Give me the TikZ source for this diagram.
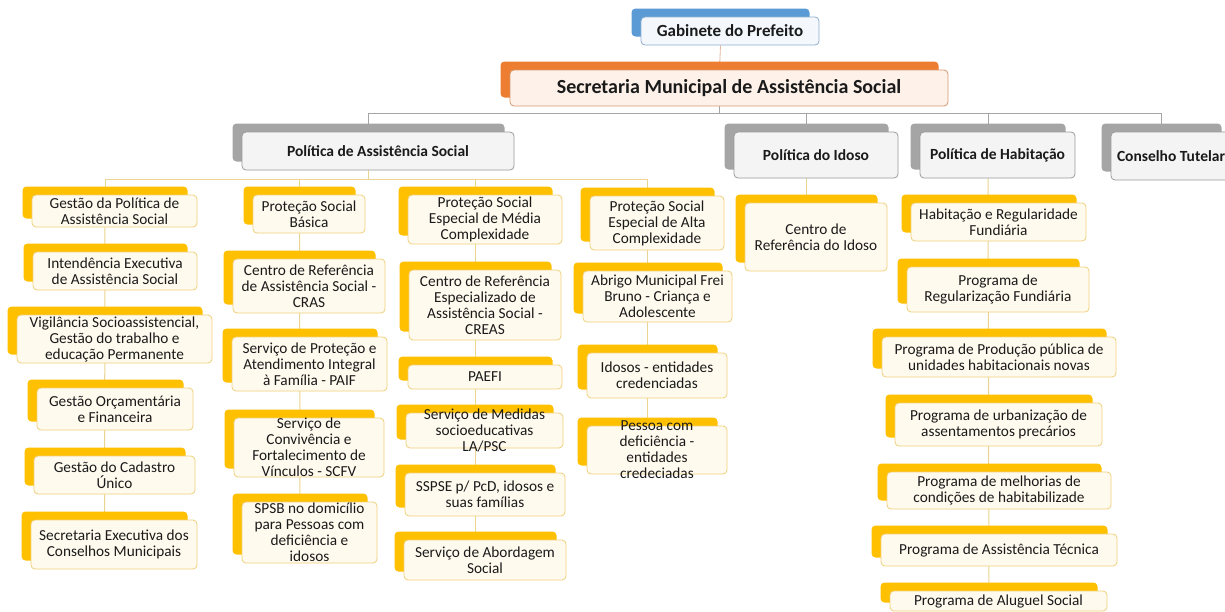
\documentclass[tikz,border=0pt]{standalone}
\usepackage{fontspec}
\setmainfont{Carlito}
\definecolor{gold}{HTML}{FFC000}
\definecolor{yfill}{HTML}{FFFAEE}
\definecolor{yedge}{HTML}{EFD07A}
\definecolor{yline}{HTML}{EAD590}
\definecolor{grtab}{HTML}{A5A5A5}
\definecolor{gfill}{HTML}{F4F4F4}
\definecolor{gedge}{HTML}{9C9C9C}
\definecolor{ortab}{HTML}{ED7D31}
\definecolor{ofill}{HTML}{FDF1EA}
\definecolor{oedge}{HTML}{D59A72}
\definecolor{bltab}{HTML}{5B9BD5}
\definecolor{bfill}{HTML}{F4F8FC}
\definecolor{bedge}{HTML}{8EAFCE}
\definecolor{txt}{HTML}{1A1A1A}
\pgfdeclarelayer{bg}
\pgfsetlayers{bg,main}
\tikzset{
  box/.style={draw, line width=0.8pt, rounded corners=4pt, align=center,
              inner sep=0pt, text=txt, font=\fontsize{15.3}{16}\selectfont},
  tabbed/.style={preaction={fill=#1, draw=none,
              transform canvas={xshift=-9.5pt,yshift=8.5pt}}},
  ybox/.style={box, tabbed=gold, draw=yedge, fill=yfill},
  gbox/.style={box, tabbed=grtab, draw=gedge, fill=gfill,
              font=\bfseries\fontsize{15.5}{17}\selectfont},
  obox/.style={box, tabbed=ortab, draw=oedge, fill=ofill,
              font=\bfseries\fontsize{20}{22}\selectfont},
  bbox/.style={box, tabbed=bltab, draw=bedge, fill=bfill,
              font=\bfseries\fontsize{17}{18}\selectfont},
  yconn/.style={draw=yline, line width=1pt},
  gconn/.style={draw=grtab, line width=0.8pt},
  oconn/.style={draw=oedge!70, line width=0.8pt}
}
\begin{document}
\begin{tikzpicture}[x=1pt,y=-1pt]
\useasboundingbox (0,0) rectangle (1225,611);

\draw (730,31) node[bbox, minimum width=178, minimum height=28] (gab) {Gabinete do Prefeito};
\draw (729,88) node[obox, minimum width=438, minimum height=36] (sec) {Secretaria Municipal de Assistência Social};

\draw (378,151) node[gbox, minimum width=272, minimum height=38] (pas) {Política de Assistência Social};
\draw (816,155) node[gbox, minimum width=164, minimum height=46] (pid) {Política do Idoso};
\draw (997.5,155) node[gbox, minimum width=155, minimum height=46] (phab) {Política de Habitação};
\draw (1171,156) node[gbox, minimum width=120, minimum height=48] (ct) {Conselho Tutelar};

\draw (114.5,211) node[ybox, minimum width=165, minimum height=32] (a1) {Gestão da Política de\\Assistência Social};
\draw (115,271) node[ybox, minimum width=164, minimum height=38] (a2) {Intendência Executiva\\de Assistência Social};
\draw (114.5,339) node[ybox, minimum width=195, minimum height=48] (a3) {Vigilância Socioassistencial,\\Gestão do trabalho e\\educação Permanente};
\draw (115,409) node[ybox, minimum width=156, minimum height=42] (a4) {Gestão Orçamentária\\e Financeira};
\draw (114.5,475) node[ybox, minimum width=161, minimum height=38] (a5) {Gestão do Cadastro\\Único};
\draw (114,544.5) node[ybox, minimum width=166, minimum height=49] (a6) {Secretaria Executiva dos\\Conselhos Municipais};

\draw (309,214) node[ybox, minimum width=112, minimum height=38] (b1) {Proteção Social\\Básica};
\draw (309,286) node[ybox, minimum width=152, minimum height=54] (b2) {Centro de Referência\\de Assistência Social -\\CRAS};
\draw (309.5,364) node[ybox, minimum width=155, minimum height=54] (b3) {Serviço de Proteção e\\Atendimento Integral\\à Família - PAIF};
\draw (309,447.5) node[ybox, minimum width=150, minimum height=59, inner ysep=-2.5pt] (b4) {Serviço de\\Convivência e\\Fortalecimento de\\Vínculos - SCFV};
\draw (309.5,532.5) node[ybox, minimum width=135, minimum height=61, inner ysep=-1.5pt] (b5) {SPSB no domicílio\\para Pessoas com\\deficiência e\\idosos};

\draw (485,219.5) node[ybox, minimum width=154, minimum height=49] (c1) {Proteção Social\\Especial de Média\\Complexidade};
\draw (485,305) node[ybox, minimum width=152, minimum height=70] (c2) {Centro de Referência\\Especializado de\\Assistência Social -\\CREAS};
\draw (485,377) node[ybox, minimum width=154, minimum height=24] (c3) {PAEFI};
\draw (484.5,430.5) node[ybox, minimum width=157, minimum height=35, inner ysep=-6pt] (c4) {Serviço de Medidas\\socioeducativas\\LA/PSC};
\draw (485,494.5) node[ybox, minimum width=160, minimum height=43] (c5) {SSPSE p/ PcD, idosos e\\suas famílias};
\draw (485,560) node[ybox, minimum width=162, minimum height=40] (c6) {Serviço de Abordagem\\Social};

\draw (657,223) node[ybox, minimum width=134, minimum height=54] (d1) {Proteção Social\\Especial de Alta\\Complexidade};
\draw (657.5,296.5) node[ybox, minimum width=149, minimum height=51] (d2) {Abrigo Municipal Frei\\Bruno - Criança e\\Adolescente};
\draw (657,375.5) node[ybox, minimum width=140, minimum height=45] (d3) {Idosos - entidades\\credenciadas};
\draw (657,450) node[ybox, minimum width=140, minimum height=48, inner ysep=-8pt] (d4) {Pessoa com\\deficiência -\\entidades\\credeciadas};

\draw (816,237) node[ybox, minimum width=142, minimum height=68] (e1) {Centro de\\Referência do Idoso};

\draw (998.5,222) node[ybox, minimum width=175, minimum height=38] (h1) {Habitação e Regularidade\\Fundiária};
\draw (998,289.5) node[ybox, minimum width=182, minimum height=45] (h2) {Programa de\\Regularização Fundiária};
\draw (999,357) node[ybox, minimum width=234, minimum height=40] (h3) {Programa de Produção pública de\\unidades habitacionais novas};
\draw (998.5,424.5) node[ybox, minimum width=207, minimum height=43] (h4) {Programa de urbanização de\\assentamentos precários};
\draw (999,490.5) node[ybox, minimum width=224, minimum height=37] (h5) {Programa de melhorias de\\condições de habitabilizade};
\draw (999,550) node[ybox, minimum width=236, minimum height=32] (h6) {Programa de Assistência Técnica};
\draw (998.5,601) node[ybox, minimum width=217, minimum height=20] (h7) {Programa de Aluguel Social};

\begin{pgfonlayer}{bg}
\fill[white] (0,0) rectangle (1225,611);
\draw[oconn] ([xshift=-9.5pt]gab.south) -- ([xshift=-9.5pt]sec.north);
\draw[gconn] ([xshift=-9.5pt]sec.south) -- ++(0,7) coordinate (sbus);
\draw[gconn] ([xshift=-9.5pt]pas.north) |- (sbus);
\draw[gconn] ([xshift=-9.5pt]pid.north) |- (sbus);
\draw[gconn] ([xshift=-9.5pt]phab.north) |- (sbus);
\draw[gconn] ([xshift=-9.5pt]ct.north) |- (sbus);
\draw[yconn] ([xshift=-9.5pt]pas.south) -- ++(0,9) coordinate (pbus);
\draw[yconn] ([xshift=-9.5pt]a1.north) |- (pbus);
\draw[yconn] ([xshift=-9.5pt]b1.north) |- (pbus);
\draw[yconn] ([xshift=-9.5pt]c1.north) |- (pbus);
\draw[yconn] ([xshift=-9.5pt]d1.north) |- (pbus);
\draw[yconn] ([xshift=-9.5pt]a1.south) -- ([xshift=-9.5pt]a6.north);
\draw[yconn] ([xshift=-9.5pt]b1.south) -- ([xshift=-9.5pt]b5.north);
\draw[yconn] ([xshift=-9.5pt]c1.south) -- ([xshift=-9.5pt]c6.north);
\draw[yconn] ([xshift=-9.5pt]d1.south) -- ([xshift=-9.5pt]d4.north);
\draw[yconn] ([xshift=-9.5pt]pid.south) -- ([xshift=-9.5pt]e1.north);
\draw[yconn] ([xshift=-9.5pt]phab.south) -- ([xshift=-9.5pt]h7.north);
\end{pgfonlayer}
\end{tikzpicture}
\end{document}
